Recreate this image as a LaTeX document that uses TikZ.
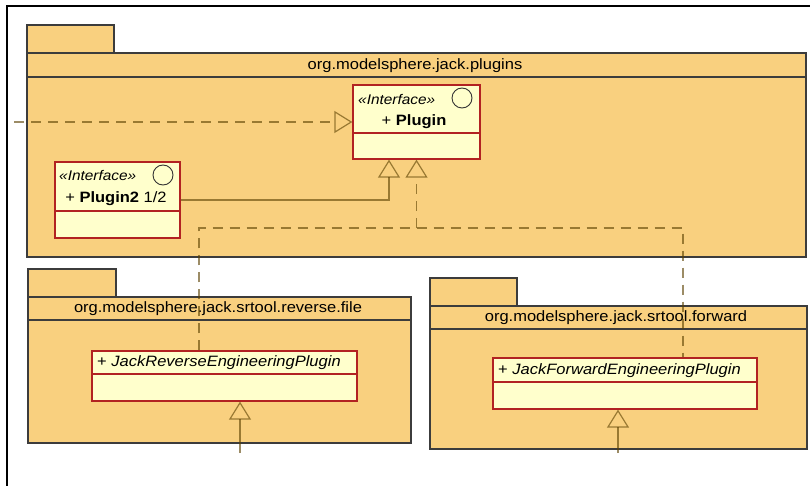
\documentclass[tikz,border=0pt]{standalone}
\usepackage{fontspec}
\setmainfont{Liberation Sans}[FakeStretch=1.1]
\usetikzlibrary{arrows.meta,calc}
\definecolor{pkg}{HTML}{F9D07F}
\definecolor{pkgline}{HTML}{3C3C3C}
\definecolor{cls}{HTML}{FFFFCC}
\definecolor{clsline}{HTML}{B22222}
\definecolor{link}{HTML}{5A4000}
\tikzset{
  pkgbox/.style={draw=pkgline, fill=pkg, line width=1.3pt},
  pkgsep/.style={draw=pkgline, line width=1.3pt},
  clsbox/.style={draw=clsline, fill=cls, line width=1.3pt, inner sep=0pt},
  clssep/.style={draw=clsline, line width=1.1pt},
  lnk/.style={draw=link, draw opacity=0.6, line width=1.2pt},
  dlnk/.style={lnk, dash pattern=on 10pt off 7pt},
  real/.style={-{Triangle[open, length=18pt, width=22pt]}},
  ster/.style={font=\itshape\fontsize{14}{16}\selectfont, inner sep=0pt},
  cname/.style={font=\fontsize{15}{17}\selectfont, inner sep=0pt},
  ptitle/.style={font=\fontsize{15}{17}\selectfont, inner sep=0pt},
  icon/.style={draw=black!80, line width=0.9pt}
}

\begin{document}
\begin{tikzpicture}[x=1pt, y=-1pt]
  \useasboundingbox (0,0) rectangle (810,486);
  \draw[line width=1.5pt] (810,6) -- (7,6) -- (7,486);

  % packages
  \draw[pkgbox] (27,25) rectangle (114,53);
  \draw[pkgbox] (27,53) rectangle (806,257);
  \draw[pkgsep] (27,77) -- (806,77);
  \node[ptitle] (ptop) at (415,66) {org.modelsphere.jack.plugins};

  \draw[pkgbox] (28,269) rectangle (116,297);
  \draw[pkgbox] (28,297) rectangle (411,443);
  \draw[pkgsep] (28,320) -- (411,320);
  \node[ptitle] (prev) at (218,309) {org.modelsphere.jack.srtool.reverse.file};

  \draw[pkgbox] (430,278) rectangle (517,306);
  \draw[pkgbox] (430,306) rectangle (807,449);
  \draw[pkgsep] (430,329) -- (807,329);
  \node[ptitle] (pfwd) at (616,318) {org.modelsphere.jack.srtool.forward};

  % classes
  \node[clsbox, minimum width=127pt, minimum height=74pt] (plugin) at (416.5,122) {};
  \draw[clssep] (353,133) -- (480,133);
  \draw[icon] (462,98) circle (10);
  \node[ster, anchor=west] (pster) at (358,99) {«Interface»};
  \node[cname] (plabel) at (414,122) {+ \textbf{Plugin}};

  \node[clsbox, minimum width=125pt, minimum height=76pt] (plugin2) at (117.5,200) {};
  \draw[clssep] (55,211) -- (180,211);
  \draw[icon] (163,175) circle (10);
  \node[ster, anchor=west] (p2ster) at (59,175) {«Interface»};
  \node[cname] (p2label) at (116,199) {+ \textbf{Plugin2} 1/2};

  \node[clsbox, minimum width=265pt, minimum height=50pt] (revcls) at (224.5,376) {};
  \draw[clssep] (92,374) -- (357,374);
  \node[cname, anchor=west] (revlabel) at (97,363) {+ \textit{JackReverseEngineeringPlugin}};

  \node[clsbox, minimum width=264pt, minimum height=51pt] (fwdcls) at (625,383.5) {};
  \draw[clssep] (493,382) -- (757,382);
  \node[cname, anchor=west] (fwdlabel) at (498,371) {+ \textit{JackForwardEngineeringPlugin}};

  % connectors
  \coordinate (L) at (14,122);
  \draw[dlnk, real] (L) -- (plugin.west);
  \draw[lnk, real] (plugin2.east) -| ([xshift=-27.5pt]plugin.south);

  \coordinate (J) at (416.5,228);
  \draw[dlnk] ([xshift=-25.5pt]revcls.north) |- (J) -| ([xshift=58pt]fwdcls.north);
  \draw[dlnk, real] (J) -- (plugin.south);

  \coordinate (R) at (240,453);
  \draw[lnk, real] (R) -- (R |- revcls.south);
  \coordinate (F) at (618,453);
  \draw[lnk, real] (F) -- (F |- fwdcls.south);
\end{tikzpicture}
\end{document}
